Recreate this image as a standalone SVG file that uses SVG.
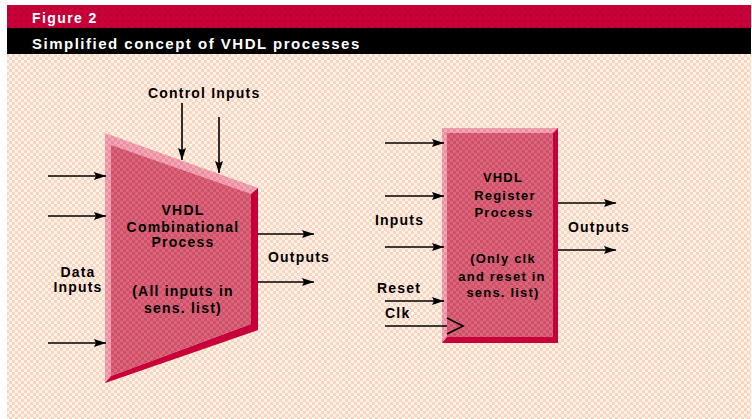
<svg xmlns="http://www.w3.org/2000/svg" width="752" height="419" viewBox="0 0 752 419">
  <defs>
    <pattern id="bgPat" width="6" height="6" patternUnits="userSpaceOnUse">
      <rect width="6" height="6" fill="#fff4dc"/>
      <rect x="0" y="0" width="3" height="3" fill="#fad2cc"/>
      <rect x="3" y="3" width="3" height="3" fill="#fad2cc"/>
    </pattern>
    <pattern id="facePat" width="6" height="6" patternUnits="userSpaceOnUse">
      <rect width="6" height="6" fill="#d9667a"/>
      <rect x="0" y="0" width="3" height="3" fill="#cf5068"/>
      <rect x="3" y="3" width="3" height="3" fill="#cf5068"/>
    </pattern>
    <pattern id="lightPat" width="6" height="6" patternUnits="userSpaceOnUse">
      <rect width="6" height="6" fill="#f2a8b6"/>
      <rect x="0" y="0" width="3" height="3" fill="#ea8ea0"/>
      <rect x="3" y="3" width="3" height="3" fill="#ea8ea0"/>
    </pattern>
    <pattern id="redPat" width="6" height="6" patternUnits="userSpaceOnUse">
      <rect width="6" height="6" fill="#c8003a"/>
      <rect x="2" y="2" width="2" height="2" fill="#b0002f"/>
    </pattern>
    <marker id="ah" viewBox="0 0 12 8" refX="12" refY="4" markerWidth="12" markerHeight="8" markerUnits="userSpaceOnUse" orient="auto">
      <path d="M0,0 L12,4 L0,8 L2,4 Z" fill="#000"/>
    </marker>
    <style>
      .ln { stroke:#000; stroke-width:1.6; fill:none; }
      .ar { marker-end:url(#ah); }
      .t { font-family:"Liberation Sans", Arial, sans-serif; font-weight:bold; font-size:14px; letter-spacing:1.2px; fill:#000; }
      .tc { text-anchor:middle; }
      .ts { font-size:13px; }
      .hd { font-family:"Liberation Sans", Arial, sans-serif; font-weight:bold; fill:#fff; }
    </style>
  </defs>

  <g id="background">
    <rect x="7" y="54" width="744" height="365" fill="url(#bgPat)"/>
    <rect x="7" y="5" width="744" height="23" fill="url(#redPat)"/>
    <rect x="7" y="28" width="744" height="26" fill="#000"/>
    <text class="hd" x="32" y="23" font-size="14" letter-spacing="1.4">Figure 2</text>
    <text class="hd" x="32" y="49" font-size="15" letter-spacing="1.5">Simplified concept of VHDL processes</text>
  </g>

  <g id="combinational">
    <polygon points="105,133 258,188 258,330 105,383" fill="url(#lightPat)"/>
    <polygon points="258,188 258,330 105,383 111,376 251,324 251,194" fill="#c8003a"/>
    <polygon points="111,145 251,194 251,324 111,376" fill="url(#facePat)"/>
    <text class="t tc" x="183" y="215">VHDL</text>
    <text class="t tc" x="183" y="232">Combinational</text>
    <text class="t tc" x="183" y="247">Process</text>
    <text class="t tc" x="183" y="296">(All inputs in</text>
    <text class="t tc" x="183" y="313">sens. list)</text>
  </g>

  <g id="register">
    <rect x="442" y="128" width="116" height="215" fill="url(#lightPat)"/>
    <polygon points="558,128 558,343 442,343 447,337 553,337 553,133" fill="#c8003a"/>
    <rect x="447" y="133" width="106" height="204" fill="url(#facePat)"/>
    <polyline class="ln" points="447,318 463,326 447,334"/>
    <text class="t tc ts" x="503" y="182">VHDL</text>
    <text class="t tc ts" x="505" y="200">Register</text>
    <text class="t tc ts" x="504" y="217">Process</text>
    <text class="t tc ts" x="503" y="263">(Only clk</text>
    <text class="t tc ts" x="502" y="281">and reset in</text>
    <text class="t tc ts" x="503" y="297">sens. list)</text>
  </g>

  <g id="labels">
    <text class="t" x="148" y="98">Control Inputs</text>
    <text class="t tc" x="78" y="277">Data</text>
    <text class="t tc" x="78" y="292">Inputs</text>
    <text class="t" x="268" y="262">Outputs</text>
    <text class="t" x="375" y="225">Inputs</text>
    <text class="t" x="377" y="293">Reset</text>
    <text class="t" x="385" y="318">Clk</text>
    <text class="t" x="568" y="232">Outputs</text>
  </g>

  <g id="connectors">
    <line class="ln ar" x1="182" y1="103" x2="182" y2="160"/>
    <line class="ln ar" x1="219" y1="117" x2="219" y2="173"/>
    <line class="ln ar" x1="48" y1="176" x2="106" y2="176"/>
    <line class="ln ar" x1="48" y1="216" x2="106" y2="216"/>
    <line class="ln ar" x1="48" y1="343" x2="106" y2="343"/>
    <line class="ln ar" x1="258" y1="234" x2="314" y2="234"/>
    <line class="ln ar" x1="258" y1="282" x2="314" y2="282"/>
    <line class="ln ar" x1="385" y1="143" x2="444" y2="143"/>
    <line class="ln ar" x1="385" y1="196" x2="444" y2="196"/>
    <line class="ln ar" x1="385" y1="247" x2="444" y2="247"/>
    <line class="ln ar" x1="385" y1="301" x2="444" y2="301"/>
    <line class="ln" x1="385" y1="326" x2="447" y2="326"/>
    <line class="ln ar" x1="558" y1="203" x2="616" y2="203"/>
    <line class="ln ar" x1="558" y1="250" x2="616" y2="250"/>
  </g>
</svg>
